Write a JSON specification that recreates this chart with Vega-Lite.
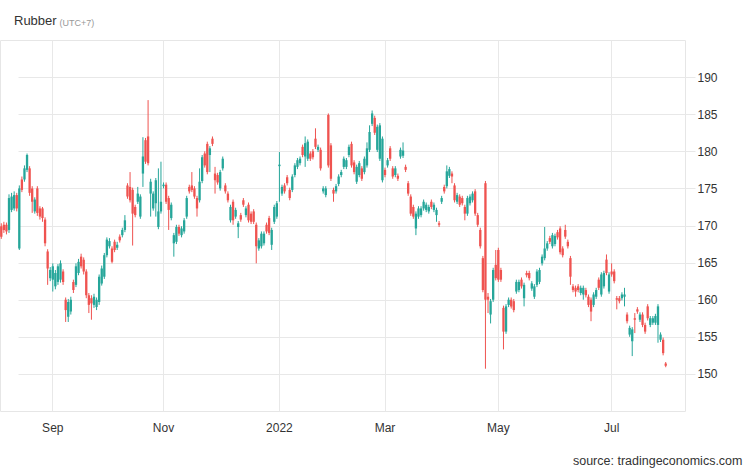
{
"$schema": "https://vega.github.io/schema/vega-lite/v6.json",
"width": 685, "height": 371,
"autosize": {"type": "none"},
"padding": {"left": 0, "top": 40, "right": 61, "bottom": 57},
"background": "white",
"title": {"text": "Rubber", "anchor": "start", "frame": "group", "orient": "top", "dx": 14, "offset": -19, "baseline": "alphabetic", "fontSize": 13, "font": "Liberation Sans", "fontWeight": "normal", "color": "#333333"},
"config": {"view": {"stroke": "#e6e6e6"}},
"data": {"values": [
{"d":"2021-08-04","o":169.9,"h":170.3,"l":168.2,"c":168.5},
{"d":"2021-08-05","o":170.1,"h":170.5,"l":169.0,"c":169.4},
{"d":"2021-08-06","o":170.1,"h":170.4,"l":168.8,"c":169.2},
{"d":"2021-08-09","o":169.4,"h":174.2,"l":169.0,"c":173.7},
{"d":"2021-08-10","o":172.1,"h":174.4,"l":171.8,"c":173.9},
{"d":"2021-08-11","o":172.3,"h":174.6,"l":172.0,"c":174.1},
{"d":"2021-08-12","o":174.1,"h":174.4,"l":171.9,"c":172.3},
{"d":"2021-08-13","o":166.9,"h":175.4,"l":166.7,"c":175.0},
{"d":"2021-08-16","o":176.2,"h":176.6,"l":174.5,"c":174.8},
{"d":"2021-08-17","o":176.2,"h":178.1,"l":175.9,"c":177.7},
{"d":"2021-08-18","o":177.5,"h":179.7,"l":177.2,"c":179.5},
{"d":"2021-08-19","o":177.7,"h":178.0,"l":174.0,"c":174.4},
{"d":"2021-08-20","o":175.0,"h":175.3,"l":171.7,"c":173.2},
{"d":"2021-08-23","o":171.9,"h":173.8,"l":171.6,"c":173.5},
{"d":"2021-08-24","o":175.0,"h":175.3,"l":171.3,"c":171.7},
{"d":"2021-08-25","o":172.3,"h":172.6,"l":170.8,"c":171.2},
{"d":"2021-08-26","o":172.3,"h":172.5,"l":170.5,"c":171.0},
{"d":"2021-08-27","o":170.8,"h":171.1,"l":167.2,"c":167.6},
{"d":"2021-08-30","o":166.5,"h":166.8,"l":162.0,"c":164.2},
{"d":"2021-08-31","o":162.9,"h":164.4,"l":162.5,"c":164.0},
{"d":"2021-09-01","o":162.7,"h":164.9,"l":161.1,"c":164.5},
{"d":"2021-09-02","o":161.8,"h":164.0,"l":161.4,"c":163.6},
{"d":"2021-09-03","o":162.4,"h":164.8,"l":162.0,"c":164.5},
{"d":"2021-09-06","o":162.7,"h":165.3,"l":162.3,"c":164.9},
{"d":"2021-09-07","o":163.8,"h":164.1,"l":162.0,"c":162.4},
{"d":"2021-09-08","o":160.0,"h":160.3,"l":157.0,"c":158.6},
{"d":"2021-09-09","o":157.7,"h":160.1,"l":157.0,"c":159.7},
{"d":"2021-09-10","o":158.4,"h":160.4,"l":158.0,"c":160.0},
{"d":"2021-09-13","o":162.4,"h":162.7,"l":160.9,"c":161.3},
{"d":"2021-09-14","o":162.0,"h":164.9,"l":161.7,"c":164.5},
{"d":"2021-09-15","o":163.6,"h":165.5,"l":163.3,"c":165.1},
{"d":"2021-09-16","o":165.8,"h":166.2,"l":164.2,"c":164.5},
{"d":"2021-09-17","o":165.4,"h":165.7,"l":163.4,"c":163.8},
{"d":"2021-09-20","o":163.8,"h":164.1,"l":160.2,"c":160.6},
{"d":"2021-09-21","o":160.6,"h":160.9,"l":158.2,"c":159.3},
{"d":"2021-09-22","o":160.2,"h":160.6,"l":157.3,"c":159.5},
{"d":"2021-09-23","o":159.3,"h":160.8,"l":158.9,"c":160.4},
{"d":"2021-09-24","o":159.0,"h":160.3,"l":158.6,"c":160.0},
{"d":"2021-09-27","o":159.7,"h":163.4,"l":159.3,"c":163.1},
{"d":"2021-09-28","o":162.2,"h":164.6,"l":161.9,"c":164.2},
{"d":"2021-09-29","o":163.1,"h":166.3,"l":162.8,"c":166.0},
{"d":"2021-09-30","o":166.0,"h":168.4,"l":165.7,"c":168.1},
{"d":"2021-10-01","o":167.2,"h":168.3,"l":166.9,"c":167.9},
{"d":"2021-10-04","o":166.9,"h":167.2,"l":164.9,"c":165.1},
{"d":"2021-10-05","o":167.8,"h":168.1,"l":166.4,"c":166.7},
{"d":"2021-10-06","o":167.0,"h":167.8,"l":166.7,"c":167.4},
{"d":"2021-10-07","o":168.5,"h":168.8,"l":167.7,"c":168.0},
{"d":"2021-10-08","o":168.7,"h":169.7,"l":168.4,"c":169.4},
{"d":"2021-10-11","o":169.4,"h":171.4,"l":169.1,"c":170.7},
{"d":"2021-10-12","o":175.4,"h":175.7,"l":173.6,"c":173.9},
{"d":"2021-10-13","o":175.2,"h":177.2,"l":173.1,"c":173.4},
{"d":"2021-10-14","o":174.8,"h":175.1,"l":167.3,"c":171.6},
{"d":"2021-10-15","o":172.5,"h":172.8,"l":171.1,"c":171.4},
{"d":"2021-10-18","o":173.2,"h":175.2,"l":172.9,"c":174.3},
{"d":"2021-10-19","o":171.2,"h":174.2,"l":170.9,"c":173.9},
{"d":"2021-10-20","o":177.0,"h":181.9,"l":175.2,"c":179.3},
{"d":"2021-10-21","o":181.5,"h":181.8,"l":178.3,"c":178.6},
{"d":"2021-10-22","o":182.0,"h":186.9,"l":178.1,"c":178.4},
{"d":"2021-10-25","o":174.3,"h":176.3,"l":171.2,"c":175.9},
{"d":"2021-10-26","o":172.3,"h":174.6,"l":172.0,"c":174.3},
{"d":"2021-10-27","o":173.0,"h":176.4,"l":171.2,"c":176.1},
{"d":"2021-10-28","o":169.8,"h":177.7,"l":169.5,"c":171.9},
{"d":"2021-10-29","o":171.9,"h":178.6,"l":171.6,"c":173.2},
{"d":"2021-11-01","o":175.3,"h":175.8,"l":175.0,"c":175.5},
{"d":"2021-11-02","o":175.5,"h":175.8,"l":172.9,"c":173.2},
{"d":"2021-11-03","o":173.7,"h":174.0,"l":169.4,"c":172.1},
{"d":"2021-11-04","o":171.0,"h":173.1,"l":170.7,"c":172.8},
{"d":"2021-11-05","o":167.6,"h":169.0,"l":165.8,"c":168.7},
{"d":"2021-11-08","o":167.8,"h":170.1,"l":167.5,"c":169.8},
{"d":"2021-11-09","o":169.8,"h":170.1,"l":168.6,"c":168.9},
{"d":"2021-11-10","o":168.7,"h":169.9,"l":168.4,"c":169.6},
{"d":"2021-11-11","o":169.2,"h":171.0,"l":168.9,"c":170.7},
{"d":"2021-11-12","o":171.2,"h":174.0,"l":170.9,"c":173.7},
{"d":"2021-11-15","o":175.2,"h":175.5,"l":174.3,"c":174.6},
{"d":"2021-11-16","o":175.4,"h":177.2,"l":174.5,"c":174.8},
{"d":"2021-11-17","o":175.0,"h":175.3,"l":173.6,"c":173.9},
{"d":"2021-11-18","o":173.7,"h":174.0,"l":171.2,"c":172.3},
{"d":"2021-11-19","o":173.4,"h":177.7,"l":173.1,"c":175.9},
{"d":"2021-11-22","o":176.0,"h":179.5,"l":175.7,"c":179.2},
{"d":"2021-11-23","o":179.7,"h":180.0,"l":177.8,"c":178.1},
{"d":"2021-11-24","o":181.0,"h":181.3,"l":176.9,"c":177.2},
{"d":"2021-11-25","o":179.5,"h":180.7,"l":177.2,"c":180.4},
{"d":"2021-11-26","o":181.7,"h":182.0,"l":180.7,"c":181.0},
{"d":"2021-11-29","o":177.0,"h":177.9,"l":174.3,"c":176.1},
{"d":"2021-11-30","o":176.8,"h":177.1,"l":175.5,"c":175.8},
{"d":"2021-12-01","o":175.0,"h":177.5,"l":174.7,"c":177.2},
{"d":"2021-12-02","o":177.7,"h":179.3,"l":177.4,"c":179.0},
{"d":"2021-12-03","o":175.4,"h":175.7,"l":174.3,"c":174.6},
{"d":"2021-12-06","o":174.3,"h":174.6,"l":173.1,"c":173.4},
{"d":"2021-12-07","o":170.7,"h":172.8,"l":170.4,"c":172.5},
{"d":"2021-12-08","o":173.2,"h":173.5,"l":170.1,"c":170.7},
{"d":"2021-12-09","o":171.2,"h":172.4,"l":170.9,"c":172.1},
{"d":"2021-12-10","o":169.8,"h":170.6,"l":168.3,"c":170.3},
{"d":"2021-12-13","o":171.4,"h":171.7,"l":170.5,"c":170.8},
{"d":"2021-12-14","o":173.4,"h":173.7,"l":172.5,"c":172.8},
{"d":"2021-12-15","o":171.4,"h":172.6,"l":171.1,"c":172.3},
{"d":"2021-12-16","o":172.8,"h":173.1,"l":170.4,"c":170.7},
{"d":"2021-12-17","o":171.6,"h":171.9,"l":170.2,"c":170.5},
{"d":"2021-12-20","o":171.9,"h":172.2,"l":170.2,"c":170.5},
{"d":"2021-12-21","o":170.1,"h":170.4,"l":164.9,"c":167.2},
{"d":"2021-12-22","o":166.9,"h":168.3,"l":166.6,"c":168.0},
{"d":"2021-12-23","o":167.2,"h":169.2,"l":166.9,"c":168.9},
{"d":"2021-12-24","o":167.6,"h":169.2,"l":167.3,"c":168.9},
{"d":"2021-12-27","o":170.1,"h":170.4,"l":168.9,"c":169.2},
{"d":"2021-12-28","o":171.0,"h":171.3,"l":168.7,"c":169.0},
{"d":"2021-12-29","o":167.4,"h":169.7,"l":166.7,"c":169.4},
{"d":"2021-12-30","o":170.5,"h":172.8,"l":170.2,"c":172.5},
{"d":"2021-12-31","o":171.2,"h":173.3,"l":170.9,"c":173.0},
{"d":"2022-01-03","o":178.0,"h":179.9,"l":173.2,"c":178.2},
{"d":"2022-01-04","o":174.3,"h":175.5,"l":174.0,"c":175.2},
{"d":"2022-01-05","o":175.4,"h":175.7,"l":174.3,"c":174.6},
{"d":"2022-01-06","o":176.5,"h":176.8,"l":175.4,"c":175.7},
{"d":"2022-01-07","o":174.8,"h":175.1,"l":173.4,"c":173.7},
{"d":"2022-01-10","o":174.8,"h":176.9,"l":174.5,"c":176.6},
{"d":"2022-01-11","o":176.8,"h":178.4,"l":176.5,"c":178.1},
{"d":"2022-01-12","o":177.9,"h":179.1,"l":177.6,"c":178.8},
{"d":"2022-01-13","o":178.4,"h":179.3,"l":178.1,"c":179.0},
{"d":"2022-01-14","o":180.6,"h":180.9,"l":179.2,"c":179.5},
{"d":"2022-01-17","o":179.3,"h":182.0,"l":177.9,"c":181.1},
{"d":"2022-01-18","o":179.0,"h":181.6,"l":178.7,"c":181.3},
{"d":"2022-01-19","o":179.7,"h":180.0,"l":178.7,"c":179.0},
{"d":"2022-01-20","o":180.0,"h":180.3,"l":178.9,"c":179.2},
{"d":"2022-01-21","o":181.7,"h":183.1,"l":180.3,"c":180.6},
{"d":"2022-01-24","o":180.2,"h":180.9,"l":179.9,"c":180.6},
{"d":"2022-01-25","o":180.2,"h":180.5,"l":177.4,"c":177.7},
{"d":"2022-01-26","o":174.6,"h":175.3,"l":174.3,"c":175.0},
{"d":"2022-01-27","o":174.1,"h":175.3,"l":173.8,"c":175.0},
{"d":"2022-01-28","o":184.9,"h":185.1,"l":177.8,"c":178.1},
{"d":"2022-01-31","o":180.8,"h":181.1,"l":176.0,"c":176.3},
{"d":"2022-02-01","o":174.8,"h":175.1,"l":173.2,"c":174.3},
{"d":"2022-02-02","o":174.6,"h":175.6,"l":174.3,"c":175.3},
{"d":"2022-02-03","o":175.6,"h":176.9,"l":175.3,"c":176.6},
{"d":"2022-02-04","o":176.8,"h":177.5,"l":176.5,"c":177.2},
{"d":"2022-02-07","o":177.9,"h":179.3,"l":177.6,"c":179.0},
{"d":"2022-02-08","o":177.9,"h":179.1,"l":177.6,"c":178.8},
{"d":"2022-02-09","o":179.5,"h":180.9,"l":179.2,"c":180.6},
{"d":"2022-02-10","o":181.0,"h":181.3,"l":177.8,"c":178.1},
{"d":"2022-02-11","o":178.5,"h":178.8,"l":176.9,"c":177.2},
{"d":"2022-02-14","o":175.9,"h":178.2,"l":175.6,"c":177.9},
{"d":"2022-02-15","o":176.8,"h":178.7,"l":176.5,"c":178.4},
{"d":"2022-02-16","o":177.7,"h":178.0,"l":176.0,"c":176.3},
{"d":"2022-02-17","o":177.2,"h":179.3,"l":176.9,"c":179.0},
{"d":"2022-02-18","o":178.1,"h":181.2,"l":177.8,"c":180.4},
{"d":"2022-02-21","o":180.2,"h":183.5,"l":179.9,"c":182.6},
{"d":"2022-02-22","o":183.7,"h":185.5,"l":183.4,"c":185.1},
{"d":"2022-02-23","o":184.5,"h":184.8,"l":182.2,"c":182.5},
{"d":"2022-02-24","o":180.2,"h":183.6,"l":179.9,"c":183.3},
{"d":"2022-02-25","o":179.0,"h":183.8,"l":178.7,"c":183.5},
{"d":"2022-02-28","o":176.1,"h":182.0,"l":175.8,"c":181.7},
{"d":"2022-03-01","o":177.5,"h":177.8,"l":176.5,"c":176.8},
{"d":"2022-03-02","o":178.1,"h":179.1,"l":177.8,"c":178.8},
{"d":"2022-03-03","o":180.4,"h":180.7,"l":178.7,"c":179.0},
{"d":"2022-03-04","o":177.7,"h":178.0,"l":176.3,"c":176.6},
{"d":"2022-03-07","o":176.8,"h":178.0,"l":176.5,"c":177.7},
{"d":"2022-03-08","o":176.7,"h":177.0,"l":176.0,"c":176.3},
{"d":"2022-03-09","o":179.3,"h":180.5,"l":179.0,"c":180.2},
{"d":"2022-03-10","o":179.4,"h":181.2,"l":179.1,"c":180.1},
{"d":"2022-03-11","o":177.9,"h":178.2,"l":177.2,"c":177.5},
{"d":"2022-03-14","o":175.7,"h":176.0,"l":174.0,"c":174.3},
{"d":"2022-03-15","o":173.9,"h":174.2,"l":171.3,"c":171.6},
{"d":"2022-03-16","o":172.5,"h":172.8,"l":170.9,"c":171.2},
{"d":"2022-03-17","o":169.6,"h":171.9,"l":168.7,"c":171.6},
{"d":"2022-03-18","o":171.2,"h":172.6,"l":170.9,"c":172.3},
{"d":"2022-03-21","o":171.4,"h":172.6,"l":171.1,"c":172.3},
{"d":"2022-03-22","o":172.3,"h":173.5,"l":172.0,"c":173.2},
{"d":"2022-03-23","o":172.1,"h":173.1,"l":171.8,"c":172.8},
{"d":"2022-03-24","o":171.9,"h":172.8,"l":171.6,"c":172.5},
{"d":"2022-03-25","o":173.2,"h":173.5,"l":172.2,"c":172.5},
{"d":"2022-03-28","o":172.1,"h":173.1,"l":171.8,"c":172.8},
{"d":"2022-03-29","o":171.4,"h":172.4,"l":170.5,"c":172.1},
{"d":"2022-03-30","o":170.3,"h":170.6,"l":169.8,"c":170.1},
{"d":"2022-03-31","o":173.2,"h":174.0,"l":172.9,"c":173.7},
{"d":"2022-04-01","o":175.2,"h":175.5,"l":174.3,"c":174.6},
{"d":"2022-04-04","o":175.3,"h":178.1,"l":175.0,"c":177.3},
{"d":"2022-04-05","o":176.7,"h":177.9,"l":176.4,"c":177.6},
{"d":"2022-04-06","o":177.0,"h":177.3,"l":175.7,"c":176.6},
{"d":"2022-04-07","o":175.4,"h":175.7,"l":173.1,"c":173.4},
{"d":"2022-04-08","o":173.2,"h":174.4,"l":172.9,"c":174.1},
{"d":"2022-04-11","o":173.9,"h":174.2,"l":172.5,"c":172.8},
{"d":"2022-04-12","o":173.7,"h":174.0,"l":172.7,"c":173.0},
{"d":"2022-04-13","o":172.5,"h":172.8,"l":170.7,"c":171.6},
{"d":"2022-04-14","o":171.6,"h":174.0,"l":171.3,"c":173.7},
{"d":"2022-04-15","o":173.0,"h":174.2,"l":172.7,"c":173.9},
{"d":"2022-04-18","o":173.4,"h":174.6,"l":173.1,"c":174.3},
{"d":"2022-04-19","o":174.6,"h":174.9,"l":171.3,"c":171.6},
{"d":"2022-04-20","o":171.4,"h":171.7,"l":169.8,"c":170.1},
{"d":"2022-04-21","o":169.4,"h":169.7,"l":166.9,"c":167.2},
{"d":"2022-04-22","o":165.6,"h":165.9,"l":161.0,"c":161.3},
{"d":"2022-04-25","o":175.7,"h":176.0,"l":150.7,"c":160.0},
{"d":"2022-04-26","o":160.4,"h":160.9,"l":158.2,"c":160.0},
{"d":"2022-04-27","o":158.0,"h":160.1,"l":156.8,"c":159.8},
{"d":"2022-04-28","o":160.0,"h":164.3,"l":159.7,"c":164.0},
{"d":"2022-04-29","o":164.7,"h":166.7,"l":162.6,"c":162.9},
{"d":"2022-05-02","o":166.7,"h":167.0,"l":162.4,"c":162.7},
{"d":"2022-05-03","o":164.0,"h":164.3,"l":162.4,"c":162.7},
{"d":"2022-05-04","o":158.9,"h":159.2,"l":153.3,"c":155.7},
{"d":"2022-05-05","o":155.7,"h":159.4,"l":155.4,"c":159.1},
{"d":"2022-05-06","o":159.3,"h":160.3,"l":159.0,"c":160.0},
{"d":"2022-05-09","o":160.0,"h":160.3,"l":158.8,"c":159.1},
{"d":"2022-05-10","o":159.8,"h":160.1,"l":158.3,"c":158.6},
{"d":"2022-05-11","o":161.1,"h":162.7,"l":160.8,"c":162.4},
{"d":"2022-05-12","o":161.3,"h":162.7,"l":161.0,"c":162.4},
{"d":"2022-05-13","o":162.7,"h":163.0,"l":161.5,"c":161.8},
{"d":"2022-05-16","o":160.2,"h":162.3,"l":159.1,"c":162.0},
{"d":"2022-05-17","o":163.6,"h":163.9,"l":163.0,"c":163.3},
{"d":"2022-05-18","o":163.6,"h":163.9,"l":162.6,"c":162.9},
{"d":"2022-05-19","o":161.5,"h":162.5,"l":161.2,"c":162.2},
{"d":"2022-05-20","o":160.4,"h":162.1,"l":160.1,"c":161.8},
{"d":"2022-05-23","o":162.0,"h":164.1,"l":161.7,"c":163.8},
{"d":"2022-05-24","o":162.4,"h":164.3,"l":162.1,"c":164.0},
{"d":"2022-05-25","o":164.9,"h":166.1,"l":164.6,"c":165.8},
{"d":"2022-05-26","o":165.6,"h":169.8,"l":165.3,"c":166.9},
{"d":"2022-05-27","o":166.9,"h":167.9,"l":166.6,"c":167.6},
{"d":"2022-05-30","o":168.3,"h":168.6,"l":167.5,"c":167.8},
{"d":"2022-05-31","o":167.2,"h":169.0,"l":166.9,"c":168.7},
{"d":"2022-06-01","o":167.5,"h":168.9,"l":167.2,"c":168.6},
{"d":"2022-06-02","o":169.1,"h":169.4,"l":168.1,"c":168.4},
{"d":"2022-06-03","o":169.6,"h":169.9,"l":166.1,"c":166.4},
{"d":"2022-06-06","o":166.9,"h":167.2,"l":165.7,"c":166.0},
{"d":"2022-06-07","o":169.4,"h":170.1,"l":168.2,"c":168.5},
{"d":"2022-06-08","o":167.8,"h":168.1,"l":166.9,"c":167.2},
{"d":"2022-06-09","o":165.6,"h":165.9,"l":162.0,"c":163.1},
{"d":"2022-06-10","o":161.8,"h":162.1,"l":161.0,"c":161.3},
{"d":"2022-06-13","o":161.6,"h":161.9,"l":160.4,"c":161.1},
{"d":"2022-06-14","o":161.8,"h":162.1,"l":161.0,"c":161.3},
{"d":"2022-06-15","o":160.9,"h":161.9,"l":160.6,"c":161.6},
{"d":"2022-06-16","o":160.7,"h":161.9,"l":160.0,"c":161.6},
{"d":"2022-06-17","o":161.3,"h":161.6,"l":160.3,"c":160.6},
{"d":"2022-06-20","o":160.4,"h":160.7,"l":159.0,"c":159.3},
{"d":"2022-06-21","o":160.0,"h":160.3,"l":157.1,"c":158.4},
{"d":"2022-06-22","o":159.3,"h":161.0,"l":159.0,"c":160.7},
{"d":"2022-06-23","o":160.4,"h":161.6,"l":160.1,"c":161.3},
{"d":"2022-06-24","o":162.7,"h":163.0,"l":161.3,"c":161.6},
{"d":"2022-06-27","o":160.7,"h":163.7,"l":160.4,"c":163.4},
{"d":"2022-06-28","o":161.8,"h":163.9,"l":161.5,"c":163.6},
{"d":"2022-06-29","o":165.4,"h":166.1,"l":163.3,"c":163.6},
{"d":"2022-06-30","o":161.1,"h":163.7,"l":160.8,"c":163.4},
{"d":"2022-07-01","o":163.8,"h":164.9,"l":163.1,"c":163.4},
{"d":"2022-07-04","o":163.8,"h":164.1,"l":162.2,"c":162.5},
{"d":"2022-07-05","o":160.2,"h":160.5,"l":158.7,"c":160.0},
{"d":"2022-07-06","o":160.2,"h":160.5,"l":159.5,"c":159.8},
{"d":"2022-07-07","o":160.2,"h":161.0,"l":159.9,"c":160.7},
{"d":"2022-07-08","o":160.4,"h":161.6,"l":159.1,"c":160.7},
{"d":"2022-07-11","o":158.0,"h":158.3,"l":156.8,"c":157.1},
{"d":"2022-07-12","o":155.3,"h":156.5,"l":155.0,"c":156.2},
{"d":"2022-07-13","o":154.4,"h":156.3,"l":152.4,"c":156.0},
{"d":"2022-07-14","o":157.5,"h":158.2,"l":155.5,"c":157.3},
{"d":"2022-07-15","o":158.7,"h":159.0,"l":158.1,"c":158.4},
{"d":"2022-07-18","o":157.3,"h":158.3,"l":157.0,"c":158.0},
{"d":"2022-07-19","o":158.0,"h":158.3,"l":156.3,"c":156.6},
{"d":"2022-07-20","o":156.6,"h":156.9,"l":155.4,"c":155.7},
{"d":"2022-07-21","o":159.1,"h":159.4,"l":157.2,"c":157.5},
{"d":"2022-07-22","o":156.6,"h":157.8,"l":156.3,"c":157.5},
{"d":"2022-07-25","o":156.9,"h":157.8,"l":156.6,"c":157.5},
{"d":"2022-07-26","o":156.9,"h":158.1,"l":156.6,"c":157.8},
{"d":"2022-07-27","o":156.6,"h":159.4,"l":154.2,"c":159.1},
{"d":"2022-07-28","o":154.6,"h":155.6,"l":154.3,"c":155.3},
{"d":"2022-07-29","o":154.6,"h":154.9,"l":152.5,"c":152.8},
{"d":"2022-08-01","o":151.4,"h":151.6,"l":150.9,"c":151.1}
]},
"encoding": {
  "x": {"field": "d", "type": "ordinal",
    "scale": {"type": "band", "paddingInner": 0, "paddingOuter": 0, "range": [0, 667], "round": false},
    "axis": {"values": ["2021-09-01","2021-11-01","2022-01-03","2022-03-01","2022-05-02","2022-07-01"],
      "labelExpr": "datum.value == '2021-09-01' ? 'Sep' : datum.value == '2021-11-01' ? 'Nov' : datum.value == '2022-01-03' ? '2022' : datum.value == '2022-03-01' ? 'Mar' : datum.value == '2022-05-02' ? 'May' : 'Jul'",
      "labelAngle": 0, "grid": true, "gridColor": "#e8e8e8", "domain": false, "ticks": false, "tickSize": 0, "bandPosition": 0.5,
      "labelPadding": 20.5, "labelBaseline": "alphabetic", "labelFont": "Liberation Sans", "labelFontSize": 12, "labelColor": "#333333",
      "title": "source: tradingeconomics.com", "titleX": 742, "titleY": 53, "titleAlign": "right", "titleBaseline": "alphabetic",
      "titleFont": "Liberation Sans", "titleFontSize": 12.5, "titleFontWeight": "normal", "titleColor": "#333333"}},
  "color": {"condition": {"test": "datum.c < datum.o", "value": "#ef5350"}, "value": "#26a69a"}
},
"layer": [
  {"mark": {"type": "rule", "strokeWidth": 1},
   "encoding": {
     "y": {"field": "l", "type": "quantitative", "scale": {"domain": [145, 195], "nice": false, "zero": false},
       "axis": {"orient": "right", "values": [150,155,160,165,170,175,180,185,190], "grid": true, "gridColor": "#e8e8e8", "domain": false,
         "ticks": true, "tickSize": 10, "tickColor": "#e8e8e8", "labelPadding": 2, "labelFont": "Liberation Sans", "labelFontSize": 12, "labelColor": "#333333",
         "title": "(UTC+7)", "titleAngle": 0, "titleX": -626, "titleY": -14.5, "titleAlign": "left", "titleBaseline": "alphabetic",
         "titleFont": "Liberation Sans", "titleFontSize": 9, "titleFontWeight": "normal", "titleColor": "#999999"}},
     "y2": {"field": "h"}}},
  {"mark": {"type": "bar", "width": {"band": 0.9}},
   "encoding": {
     "y": {"field": "o", "type": "quantitative", "scale": {"domain": [145, 195], "nice": false, "zero": false},
       "axis": {"orient": "right", "values": [150,155,160,165,170,175,180,185,190], "grid": true, "gridColor": "#e8e8e8", "domain": false,
         "ticks": true, "tickSize": 10, "tickColor": "#e8e8e8", "labelPadding": 2, "labelFont": "Liberation Sans", "labelFontSize": 12, "labelColor": "#333333",
         "title": "(UTC+7)", "titleAngle": 0, "titleX": -626, "titleY": -14.5, "titleAlign": "left", "titleBaseline": "alphabetic",
         "titleFont": "Liberation Sans", "titleFontSize": 9, "titleFontWeight": "normal", "titleColor": "#999999"}},
     "y2": {"field": "c"}}}
]
}
